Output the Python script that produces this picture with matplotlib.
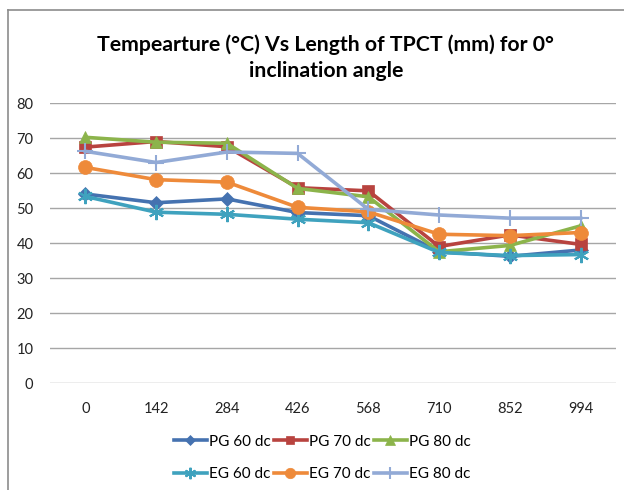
import matplotlib
matplotlib.use("Agg")
import matplotlib.pyplot as plt
from matplotlib.lines import Line2D

plt.rcParams['font.family'] = ['Lato', 'DejaVu Sans']

# length along the TPCT (mm)
lengths = ["0", "142", "284", "426", "568", "710", "852", "994"]

pg_60 = [54.0, 51.5, 52.6, 48.7, 47.8, 37.5, 36.2, 38.0]
pg_70 = [67.4, 69.0, 67.5, 55.8, 54.9, 39.0, 42.3, 39.6]
pg_80 = [70.2, 68.8, 68.5, 55.6, 53.2, 37.5, 39.3, 44.9]
eg_60 = [53.3, 48.8, 48.2, 46.8, 45.8, 37.3, 36.4, 36.7]
eg_70 = [61.6, 58.1, 57.4, 50.2, 48.9, 42.5, 42.1, 43.0]
eg_80 = [66.2, 63.0, 66.0, 65.6, 49.6, 48.0, 47.1, 47.1]

series = [
    ("PG 60 dc", pg_60, "#4572B0", "D", 7),
    ("PG 70 dc", pg_70, "#B8433F", "s", 8),
    ("PG 80 dc", pg_80, "#8CB44B", "^", 9),
    ("EG 60 dc", eg_60, "#3FA2BE", (6, 2, 0), 11),
    ("EG 70 dc", eg_70, "#EE8A3A", "o", 10),
    ("EG 80 dc", eg_80, "#92AAD6", "+", 12),
]

fig = plt.figure(figsize=(6.24, 4.90), dpi=100)
ax = fig.add_axes([50 / 624, 1 - 383 / 490, 566 / 624, 280 / 490])

x = list(range(len(lengths)))
handles = []
for name, vals, col, mk, ms in series:
    mew = 1.5 if mk in ("+", (6, 2, 0)) else 0.5
    ax.plot(x, vals, color=col, lw=2.6, marker=mk, ms=ms, mfc=col, mec=col, mew=mew, zorder=3)
    handles.append(Line2D([], [], color=col, lw=2.6, marker=mk, ms=ms * 0.75, mfc=col, mec=col, mew=mew))

ax.set_xlim(-0.5, len(lengths) - 0.5)
ax.set_ylim(0, 80)
ax.set_yticks(range(0, 81, 10))
ax.set_xticks(x)
ax.set_xticklabels(lengths)
ax.grid(axis='y', color='#A6A6A6', lw=1)
ax.set_axisbelow(True)
for s in ax.spines.values():
    s.set_visible(False)
ax.tick_params(length=0, labelsize=10.5, colors='#222222')
ax.tick_params(axis='x', pad=14)
ax.tick_params(axis='y', pad=12)

fig.text(0.522, 1 - 58 / 490, "Tempearture (°C) Vs Length of TPCT (mm) for 0°\ninclination angle",
         ha='center', va='center', fontsize=15.3, fontweight='bold', linespacing=1.35)

# legend fills column by column, so reorder to read row by row
order = [0, 3, 1, 4, 2, 5]
fig.legend([handles[i] for i in order], [series[i][0] for i in order], ncol=3, loc='center',
           bbox_to_anchor=(322 / 624, 1 - 458 / 490), frameon=False,
           fontsize=11, handlelength=2.2, handletextpad=0.1, columnspacing=0.2,
           labelspacing=1.2)

# chart frame (only left and top edges are in view)
fig.add_artist(Line2D([8 / 624, 1], [1 - 10 / 490] * 2, color='#8C8C8C', lw=1.2, transform=fig.transFigure))
fig.add_artist(Line2D([8 / 624] * 2, [0, 1 - 10 / 490], color='#8C8C8C', lw=1.2, transform=fig.transFigure))

fig.savefig("out.png", dpi=100)
